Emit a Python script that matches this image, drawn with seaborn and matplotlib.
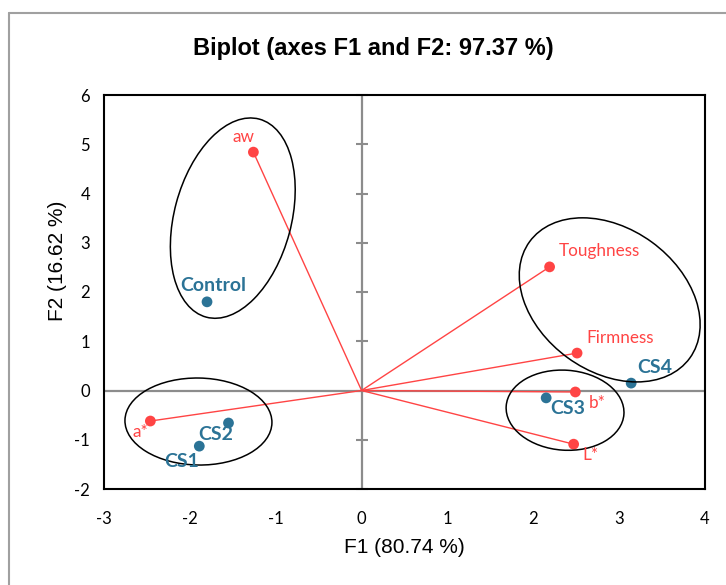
import numpy as np
import pandas as pd
import seaborn as sns
import matplotlib.pyplot as plt
from matplotlib.patches import Ellipse
from matplotlib.lines import Line2D
from matplotlib.transforms import ScaledTranslation

# observations (blue)
obs_names = ["Control", "CS1", "CS2", "CS3", "CS4"]
obs_f1 = [-1.80, -1.89, -1.55, 2.15, 3.14]
obs_f2 = [1.80, -1.13, -0.66, -0.15, 0.15]

# variables (red)
var_names = ["aw", "a*", "Toughness", "Firmness", "b*", "L*"]
var_f1 = [-1.26, -2.46, 2.19, 2.51, 2.49, 2.47]
var_f2 = [4.84, -0.62, 2.51, 0.76, -0.03, -1.09]

x_ticks = [-3, -2, -1, 0, 1, 2, 3, 4]
y_ticks = [-2, -1, 0, 1, 2, 3, 4, 5, 6]

# group ellipses: centre in (F1, F2)
group_f1 = [-1.50, -1.90, 2.89, 2.37]
group_f2 = [3.50, -0.63, 1.84, -0.40]

# ellipse shape in pixels: width, height, angle
ell_shape = [(205, 117, 75), (147, 87, -1), (198, 143, -36), (118, 80, -4)]

# label offsets in pixels
obs_off = {"Control": (6, 16), "CS1": (-18, -15), "CS2": (-13, -11),
           "CS3": (22, -11), "CS4": (24, 16)}
var_off = {"aw": (-10, 15), "a*": (-10, -11), "Toughness": (50, 16),
           "Firmness": (43, 15), "b*": (22, -11), "L*": (17, -11)}

BLUE = "#2b7396"
RED = "#ff4444"
GRAY = "#8c8c8c"

sns.set_style("white")
plt.rcParams["font.family"] = ["Lato", "DejaVu Sans"]

fig = plt.figure(figsize=(7.26, 5.85), dpi=100)
ax = fig.add_axes([104 / 726, 1 - 489 / 585, 601 / 726, 394 / 585])

obs = pd.DataFrame({"F1": obs_f1, "F2": obs_f2, "name": obs_names})
var = pd.DataFrame({"F1": var_f1, "F2": var_f2, "name": var_names})

ax.axhline(0, color=GRAY, lw=1.6, zorder=1)
ax.axvline(0, color=GRAY, lw=1.6, zorder=1)
ax.plot(np.zeros(len(y_ticks)), y_ticks, ls="none", marker="_", ms=8,
        mew=1.5, color=GRAY, zorder=1, clip_on=False)

for x, y in zip(var_f1, var_f2):
    ax.plot([0, x], [0, y], color=RED, lw=1.0, zorder=2)

sns.scatterplot(data=var, x="F1", y="F2", color=RED, s=60, edgecolor="none",
                ax=ax, zorder=3)
sns.scatterplot(data=obs, x="F1", y="F2", color=BLUE, s=60, edgecolor="none",
                ax=ax, zorder=3)

for cx, cy, (w, h, a) in zip(group_f1, group_f2, ell_shape):
    tr = fig.dpi_scale_trans + ScaledTranslation(cx, cy, ax.transData)
    ax.add_patch(Ellipse((0, 0), w / 100, h / 100, angle=a, transform=tr,
                         fill=False, edgecolor="black", lw=1.1, zorder=4))

for n, x, y in zip(obs_names, obs_f1, obs_f2):
    ax.annotate(n, (x, y), xytext=obs_off[n], textcoords="offset pixels",
                ha="center", va="center", color=BLUE, fontsize=14,
                fontweight="bold", zorder=5)
for n, x, y in zip(var_names, var_f1, var_f2):
    ax.annotate(n, (x, y), xytext=var_off[n], textcoords="offset pixels",
                ha="center", va="center", color=RED, fontsize=12.3, zorder=5)

ax.set_xlim(-3, 4)
ax.set_ylim(-2, 6)
ax.set_xticks(x_ticks)
ax.set_yticks(y_ticks)
ax.set_xticklabels([str(t) for t in x_ticks])
ax.set_yticklabels([str(t) for t in y_ticks])
ax.tick_params(axis="x", length=0, pad=16, labelsize=12, labelcolor="black")
ax.tick_params(axis="y", length=0, pad=10, labelsize=12, labelcolor="black")
for s in ax.spines.values():
    s.set_color("black")
    s.set_linewidth(1.5)

ax.set_xlabel("F1 (80.74 %)", fontsize=15, family="Liberation Sans",
              color="black")
ax.set_ylabel("F2 (16.62 %)", fontsize=15, family="Liberation Sans",
              color="black")
ax.xaxis.set_label_coords(0.50, -0.125)
ax.yaxis.set_label_coords(-0.062, 0.58)

fig.text(373 / 726, 1 - 48 / 585, "Biplot (axes F1 and F2: 97.37 %)",
         ha="center", va="center", fontsize=17, fontweight="bold",
         family="Liberation Sans", color="black")

# outer chart frame
fig.add_artist(Line2D([9 / 726, 9 / 726], [0, 1 - 13 / 585], color="#a0a0a0",
                      lw=1.5, transform=fig.transFigure))
fig.add_artist(Line2D([9 / 726, 1], [1 - 13 / 585, 1 - 13 / 585],
                      color="#a0a0a0", lw=1.5, transform=fig.transFigure))

fig.savefig("out.png", dpi=100)
